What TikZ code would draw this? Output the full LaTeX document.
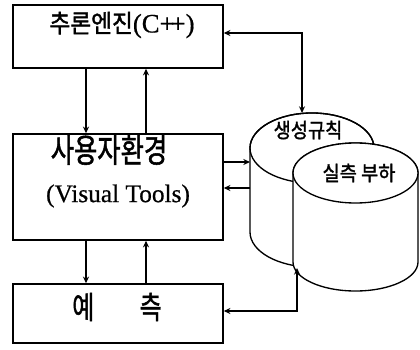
\documentclass[tikz,border=0pt]{standalone}
\usepackage{fontspec}
\setmainfont{Liberation Serif}[FakeBold=0.6]
\newfontfamily\kr{Noto Sans CJK KR}[FakeBold=1.6]
\usetikzlibrary{arrows.meta}
\tikzset{
  box/.style={draw, line width=1.1pt, minimum width=157.5pt, inner sep=0pt},
  arr/.style={line width=0.9pt, -{Stealth[length=5pt,width=4.5pt]}},
  darr/.style={line width=0.9pt, {Stealth[length=5pt,width=4.5pt]}-{Stealth[length=5pt,width=4.5pt]}},
  cyl/.style={draw, line width=1pt, fill=white},
  txt/.style={inner sep=0pt, anchor=center}
}
\begin{document}
\begin{tikzpicture}[x=0.75pt,y=-0.75pt]
\useasboundingbox (0,0) rectangle (420,349);
% boxes
\node[box, minimum height=47.25pt] (b1) at (118,36.5) {};
\node[box, minimum height=79.5pt] (b2) at (118,187) {};
\node[box, minimum height=44.25pt] (b3) at (118,313.5) {};
% texts
\node[txt] (t1) at (122,25) {\fontsize{17pt}{20pt}\selectfont\scalebox{1}[1.1]{\kr 추론엔진}\fontsize{20pt}{22pt}\selectfont(C+\kern-3pt+)};
\node[txt] (t2a) at (109,150) {\fontsize{19pt}{22pt}\selectfont\scalebox{1}[1.3]{\kr 사용자환경}};
\node[txt] (t2b) at (118,196) {\fontsize{19pt}{22pt}\selectfont (Visual Tools)};
\node[txt] (t3) at (117,307) {\fontsize{18pt}{22pt}\selectfont\scalebox{1}[1.3]{\kr 예\hspace{34pt}측}};
% cylinder 1
\path[cyl] (250,148) -- (250,232) arc[start angle=180,end angle=0,x radius=62,y radius=35]
  -- (374,148) arc[start angle=0,end angle=-180,x radius=62,y radius=35] -- cycle;
\draw[line width=1pt] (312,148) ellipse[x radius=62,y radius=35];
% cylinder 2
\path[cyl] (293,173) -- (293,262) arc[start angle=180,end angle=0,x radius=62.5,y radius=29]
  -- (418,173) arc[start angle=0,end angle=-180,x radius=62.5,y radius=30] -- cycle;
\draw[line width=1pt, fill=white] (355.5,173) ellipse[x radius=62.5,y radius=30];
\node[txt] (l1) at (308,130) {\fontsize{14pt}{16pt}\selectfont\scalebox{1}[1.1]{\kr 생성규칙}};
\node[txt] (l2) at (359,173) {\fontsize{14pt}{16pt}\selectfont\scalebox{1}[1.1]{\kr 실측 부하}};
% anchor coordinates
\coordinate (xa) at (86,0);
\coordinate (xb) at (146,0);
\coordinate (c1top) at (302,113);
\coordinate (c1in) at (250,162);
\coordinate (c1out) at (250,188);
\coordinate (c2bot) at (297,268);
\coordinate (k1) at (302,33);
\coordinate (k2) at (297,311);
% connectors
\draw[arr] (b1.south -| xa) -- (b2.north -| xa);
\draw[arr] (b2.north -| xb) -- (b1.south -| xb);
\draw[arr] (b2.south -| xa) -- (b3.north -| xa);
\draw[arr] (b3.north -| xb) -- (b2.south -| xb);
\draw[darr] (b1.east |- k1) -- (k1) -- (c1top);
\draw[arr] (b2.east |- c1in) -- (c1in);
\draw[arr] (c1out) -- (b2.east |- c1out);
\draw[darr] (b3.east |- k2) -- (k2) -- (c2bot);
\end{tikzpicture}
\end{document}
